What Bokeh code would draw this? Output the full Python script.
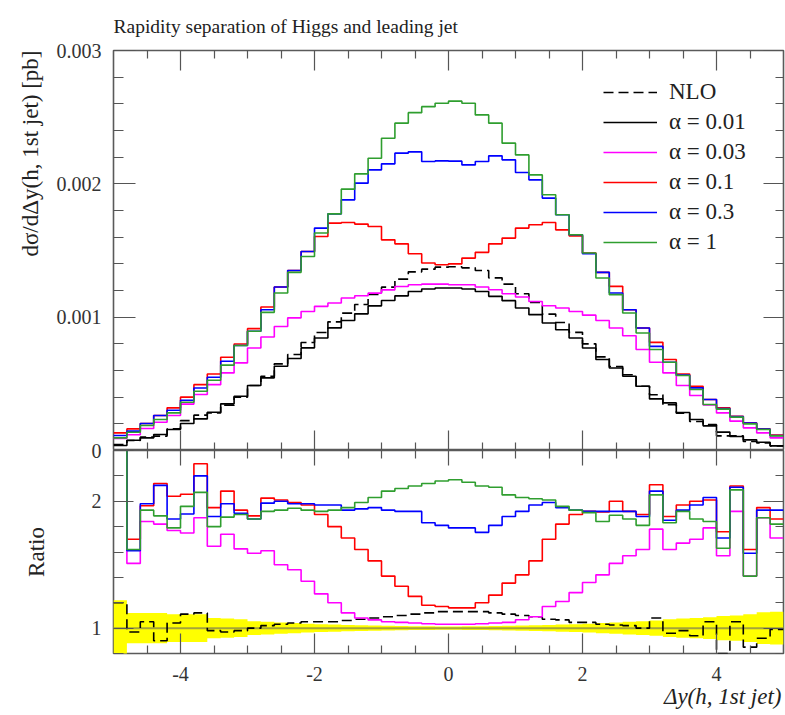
import numpy as np
from bokeh.plotting import figure
from bokeh.models import (Range1d, FixedTicker, NumeralTickFormatter, LinearAxis,
                          Legend, LegendItem, Title)
from bokeh.layouts import column
from bokeh.embed import file_html
from bokeh.resources import INLINE

FONT = "Liberation Serif"
FRAME = "#5a5a5a"
TICK = "#555555"
TXT = "#222222"

# ---------------- data ----------------
bin_edges = np.round(np.linspace(-5.0, 5.0, 51), 2)   # 50 bins of width 0.2
xs_unit = 1e-3   # values below are in units of 1e-3 pb

xs_nlo = [0.045, 0.075, 0.100, 0.108, 0.163, 0.224, 0.265, 0.282, 0.340, 0.400,
          0.487, 0.556, 0.650, 0.720, 0.810, 0.885, 0.965, 1.030, 1.095, 1.170,
          1.225, 1.285, 1.340, 1.360, 1.375, 1.378, 1.370, 1.350, 1.295, 1.248,
          1.176, 1.110, 1.023, 0.960, 0.886, 0.800, 0.702, 0.630, 0.568, 0.482,
          0.418, 0.343, 0.279, 0.218, 0.194, 0.110, 0.110, 0.068, 0.057, 0.035]
xs_a001 = [0.037, 0.077, 0.095, 0.120, 0.157, 0.202, 0.237, 0.287, 0.350, 0.407,
           0.487, 0.545, 0.632, 0.690, 0.770, 0.844, 0.920, 0.975, 1.025, 1.085,
           1.125, 1.160, 1.193, 1.211, 1.219, 1.219, 1.211, 1.193, 1.156, 1.124,
           1.069, 1.019, 0.956, 0.906, 0.844, 0.769, 0.682, 0.619, 0.557, 0.482,
           0.387, 0.357, 0.285, 0.232, 0.185, 0.138, 0.105, 0.080, 0.062, 0.035]
xs_a003 = [0.090, 0.118, 0.165, 0.212, 0.262, 0.348, 0.420, 0.494, 0.582, 0.657,
           0.769, 0.851, 0.930, 0.995, 1.043, 1.081, 1.106, 1.144, 1.161, 1.180,
           1.205, 1.230, 1.243, 1.248, 1.248, 1.243, 1.243, 1.226, 1.206, 1.176,
           1.151, 1.118, 1.086, 1.069, 1.043, 1.015, 0.975, 0.919, 0.861, 0.757,
           0.662, 0.582, 0.487, 0.412, 0.342, 0.282, 0.220, 0.170, 0.132, 0.095]
xs_a01 = [0.132, 0.162, 0.202, 0.262, 0.320, 0.400, 0.494, 0.574, 0.699, 0.799,
          0.914, 1.076, 1.226, 1.350, 1.493, 1.605, 1.705, 1.710, 1.698, 1.680,
          1.580, 1.550, 1.476, 1.406, 1.393, 1.400, 1.443, 1.486, 1.550, 1.593,
          1.668, 1.693, 1.710, 1.655, 1.610, 1.481, 1.336, 1.231, 1.056, 0.919,
          0.811, 0.682, 0.574, 0.482, 0.382, 0.320, 0.257, 0.207, 0.162, 0.115]
xs_a03 = [0.112, 0.145, 0.202, 0.262, 0.302, 0.377, 0.469, 0.549, 0.669, 0.787,
          0.894, 1.056, 1.226, 1.350, 1.493, 1.668, 1.775, 1.880, 2.005, 2.105,
          2.150, 2.230, 2.240, 2.167, 2.172, 2.170, 2.142, 2.167, 2.210, 2.180,
          2.085, 2.030, 1.893, 1.768, 1.618, 1.476, 1.336, 1.181, 1.056, 0.919,
          0.781, 0.662, 0.565, 0.470, 0.382, 0.315, 0.255, 0.205, 0.160, 0.112]
xs_a1 = [0.095, 0.137, 0.187, 0.232, 0.282, 0.362, 0.444, 0.527, 0.640, 0.787,
         0.894, 1.036, 1.181, 1.336, 1.455, 1.631, 1.775, 1.960, 2.075, 2.192,
         2.342, 2.455, 2.534, 2.579, 2.604, 2.620, 2.604, 2.517, 2.455, 2.305,
         2.217, 2.067, 1.918, 1.768, 1.618, 1.481, 1.294, 1.169, 1.031, 0.881,
         0.757, 0.662, 0.562, 0.457, 0.345, 0.310, 0.250, 0.200, 0.158, 0.110]

# ratios to the alpha = 0.01 prediction
ratio_nlo = [1.20, 0.97, 1.05, 0.90, 1.04, 1.11, 1.12, 0.98, 0.97, 0.98,
             1.00, 1.02, 1.03, 1.04, 1.05, 1.05, 1.05, 1.06, 1.07, 1.08,
             1.09, 1.10, 1.11, 1.12, 1.13, 1.13, 1.13, 1.13, 1.12, 1.11,
             1.10, 1.09, 1.07, 1.065, 1.045, 1.045, 1.03, 1.025, 1.02, 1.00,
             1.08, 0.96, 0.98, 0.94, 1.05, 0.80, 1.05, 0.85, 0.92, 0.99]
ratio_a003 = [2.50, 1.51, 1.84, 1.82, 1.77, 1.75, 1.87, 1.645, 1.74, 1.625,
              1.59, 1.61, 1.50, 1.46, 1.37, 1.27, 1.20, 1.12, 1.08, 1.065,
              1.05, 1.045, 1.04, 1.035, 1.03, 1.03, 1.03, 1.035, 1.04, 1.045,
              1.066, 1.09, 1.17, 1.21, 1.28, 1.36, 1.42, 1.51, 1.57, 1.62,
              1.78, 1.62, 1.67, 1.70, 1.79, 1.57, 1.92, 1.41, 1.87, 1.71]
ratio_a01 = [3.80, 1.70, 1.965, 2.14, 2.04, 2.055, 2.295, 1.95, 2.08, 1.93,
             1.885, 2.025, 2.01, 1.99, 1.97, 1.895, 1.80, 1.71, 1.62, 1.53,
             1.41, 1.33, 1.25, 1.18, 1.17, 1.16, 1.16, 1.20, 1.26, 1.355,
             1.42, 1.53, 1.70, 1.82, 1.895, 1.92, 1.915, 2.00, 1.92, 1.895,
             2.13, 1.88, 1.97, 2.00, 2.01, 1.76, 2.12, 1.62, 1.95, 1.86]
ratio_a03 = [3.20, 1.61, 1.98, 2.125, 1.86, 1.90, 2.20, 1.88, 1.98, 1.905,
             1.86, 1.985, 2.00, 1.98, 1.98, 1.97, 1.97, 1.93, 1.94, 1.95,
             1.93, 1.92, 1.92, 1.83, 1.81, 1.79, 1.79, 1.755, 1.81, 1.88,
             1.92, 1.97, 1.99, 1.95, 1.93, 1.92, 1.92, 1.92, 1.92, 1.88,
             2.08, 1.85, 1.93, 1.97, 2.03, 1.71, 2.11, 1.59, 1.93, 1.93]
ratio_a1 = [2.70, 1.62, 1.93, 1.885, 1.79, 1.96, 2.07, 1.80, 1.875, 1.895,
            1.86, 1.92, 1.93, 1.945, 1.93, 1.92, 1.93, 1.95, 1.99, 2.03,
            2.08, 2.10, 2.12, 2.14, 2.16, 2.17, 2.15, 2.12, 2.11, 2.05,
            2.03, 2.02, 2.01, 1.96, 1.93, 1.91, 1.84, 1.89, 1.86, 1.81,
            2.05, 1.83, 1.92, 1.86, 1.84, 1.63, 2.09, 1.41, 1.87, 1.82]
ratio_ref = [1.0] * 50
ref_err = [0.22, 0.12, 0.12, 0.12, 0.11, 0.11, 0.11, 0.08, 0.075, 0.07,
           0.055, 0.05, 0.045, 0.04, 0.035, 0.03, 0.028, 0.025, 0.022, 0.02,
           0.018, 0.016, 0.015, 0.014, 0.013, 0.013, 0.014, 0.015, 0.016, 0.018,
           0.02, 0.022, 0.025, 0.028, 0.03, 0.035, 0.04, 0.045, 0.05, 0.055,
           0.06, 0.07, 0.075, 0.08, 0.085, 0.095, 0.10, 0.11, 0.125, 0.13]

series_labels = ["NLO", "α = 0.01", "α = 0.03", "α = 0.1", "α = 0.3", "α = 1"]
series_colors = ["black", "black", "#ff00ff", "#ff0000", "#0000ff", "#2f9e2f"]

x_major = [-4, -2, 0, 2, 4]
x_minor = [-4.5, -3.5, -3, -2.5, -1.5, -1, -0.5, 0.5, 1, 1.5, 2.5, 3, 3.5, 4.5]
y_major = [0.001, 0.002, 0.003]
y_minor = [0.0002, 0.0004, 0.0006, 0.0008, 0.0012, 0.0014, 0.0016, 0.0018,
           0.0022, 0.0024, 0.0026, 0.0028]
r_major = [1, 2, 2.4]          # 2.4 is the panel join, labelled "0" for the main panel
r_minor = [0.8, 1.2, 1.4, 1.6, 1.8, 2.2]

OVERLAP = 10   # ratio canvas slides under the main canvas by this many pixels


def stepy(v, scale=1.0):
    v = [float(a) * scale for a in v]
    return v + [v[-1]]


def style_axis(ax, major_in, minor_in, labels=True, standoff=12, size="20px"):
    ax.axis_line_color = None
    ax.major_tick_in = major_in
    ax.major_tick_out = 0
    ax.minor_tick_in = minor_in
    ax.minor_tick_out = 0
    ax.major_tick_line_color = TICK
    ax.minor_tick_line_color = TICK
    ax.major_tick_line_width = 1.2
    ax.minor_tick_line_width = 1.2
    if labels:
        ax.major_label_text_font = FONT
        ax.major_label_text_font_size = size
        ax.major_label_text_color = "#333333"
        ax.major_label_standoff = standoff
    else:
        ax.major_label_text_color = None
        ax.major_label_standoff = 0


xr = Range1d(-5, 5)

# ---------------- main panel ----------------
p1 = figure(width=785, height=450, x_range=xr, y_range=Range1d(0, 0.003),
            output_backend="svg", toolbar_location=None,
            min_border_left=113, min_border_right=2, min_border_top=50,
            min_border_bottom=0)
p1.xgrid.visible = False
p1.ygrid.visible = False
p1.outline_line_color = FRAME
p1.outline_line_width = 1.6

p1.title.text = "Rapidity separation of Higgs and leading jet"
p1.title.align = "left"
p1.title.offset = 0
p1.title.vertical_align = "top"
p1.title.standoff = 24
p1.title.text_font = FONT
p1.title.text_font_size = "19.5px"
p1.title.text_font_style = "normal"
p1.title.text_color = TXT

p1.xaxis[0].ticker = FixedTicker(ticks=x_major, minor_ticks=x_minor)
style_axis(p1.xaxis[0], 20, 8, labels=False)
p1.yaxis[0].ticker = FixedTicker(ticks=y_major, minor_ticks=y_minor)
p1.yaxis[0].formatter = NumeralTickFormatter(format="0.[000]")
style_axis(p1.yaxis[0], 22, 10, labels=True, standoff=12)

ax_top = LinearAxis(ticker=FixedTicker(ticks=x_major, minor_ticks=x_minor))
style_axis(ax_top, 20, 8, labels=False)
p1.add_layout(ax_top, "above")
ax_right = LinearAxis(ticker=FixedTicker(ticks=y_major, minor_ticks=y_minor))
style_axis(ax_right, 20, 8, labels=False)
p1.add_layout(ax_right, "right")

p1.add_layout(Title(text="dσ/dΔy(h, 1st jet) [pb]", align="right",
                    vertical_align="bottom", standoff=22, text_font=FONT,
                    text_font_size="23px", text_font_style="normal",
                    text_color=TXT), "left")

main_series = [xs_nlo, xs_a001, xs_a003, xs_a01, xs_a03, xs_a1]
renderers = []
for i, vals in enumerate(main_series):
    kw = dict(line_dash="10 5") if i == 0 else {}
    r = p1.step(bin_edges, stepy(vals, xs_unit), mode="after",
                line_color=series_colors[i], line_width=1.6, **kw)
    renderers.append(r)

legend = Legend(items=[LegendItem(label=series_labels[i], renderers=[renderers[i]])
                       for i in range(6)],
                location=(485, 190), padding=5, spacing=4, margin=0,
                label_height=26, glyph_height=26, glyph_width=54,
                label_standoff=12, label_text_font=FONT,
                label_text_font_size="23px", label_text_color=TXT,
                background_fill_alpha=0, border_line_alpha=0)
p1.add_layout(legend)

# ---------------- ratio panel ----------------
p2 = figure(width=785, height=265 + OVERLAP, x_range=xr, y_range=Range1d(0.8, 2.4),
            output_backend="svg", toolbar_location=None,
            min_border_left=113, min_border_right=2, min_border_top=OVERLAP,
            min_border_bottom=62, margin=(-OVERLAP, 0, 0, 0),
            border_fill_color=None, background_fill_color=None)
p2.xgrid.visible = False
p2.ygrid.visible = False
p2.outline_line_color = FRAME
p2.outline_line_width = 1.6

p2.xaxis[0].ticker = FixedTicker(ticks=x_major, minor_ticks=x_minor)
p2.xaxis[0].formatter = NumeralTickFormatter(format="0")
style_axis(p2.xaxis[0], 20, 8, labels=True, standoff=13)
p2.yaxis[0].ticker = FixedTicker(ticks=r_major, minor_ticks=r_minor)
p2.yaxis[0].formatter = NumeralTickFormatter(format="0")
p2.yaxis[0].major_label_overrides = {2.4: "0"}
style_axis(p2.yaxis[0], 20, 10, labels=True, standoff=12)
p2.yaxis[0].axis_label = "Ratio"
p2.yaxis[0].axis_label_text_font = FONT
p2.yaxis[0].axis_label_text_font_size = "23px"
p2.yaxis[0].axis_label_text_font_style = "normal"
p2.yaxis[0].axis_label_text_color = TXT
p2.yaxis[0].axis_label_standoff = 40

ax_top2 = LinearAxis(ticker=FixedTicker(ticks=x_major, minor_ticks=x_minor))
style_axis(ax_top2, 15, 8, labels=False)
p2.add_layout(ax_top2, "above")
ax_right2 = LinearAxis(ticker=FixedTicker(ticks=r_major, minor_ticks=r_minor))
style_axis(ax_right2, 20, 8, labels=False)
p2.add_layout(ax_right2, "right")

p2.add_layout(Title(text="Δy(h, 1st jet)", align="right", vertical_align="top",
                    standoff=0, offset=2, text_font=FONT, text_font_size="23px",
                    text_font_style="italic", text_color=TXT), "below")

lo = [1 - e for e in ref_err]
hi = [1 + e for e in ref_err]
p2.varea_step(x=bin_edges, y1=stepy(lo), y2=stepy(hi), step_mode="after",
              fill_color="#ffff00", fill_alpha=1.0)
p2.step(bin_edges, stepy(ratio_ref), mode="after", line_color="#a4a43a", line_width=2)

ratio_series = [ratio_nlo, None, ratio_a003, ratio_a01, ratio_a03, ratio_a1]
for i, vals in enumerate(ratio_series):
    if vals is None:
        continue
    kw = dict(line_dash="10 5") if i == 0 else {}
    p2.step(bin_edges, stepy(vals), mode="after",
            line_color=series_colors[i], line_width=1.6, **kw)

layout = column(p1, p2)
open("out.html", "w").write(file_html(layout, INLINE))
